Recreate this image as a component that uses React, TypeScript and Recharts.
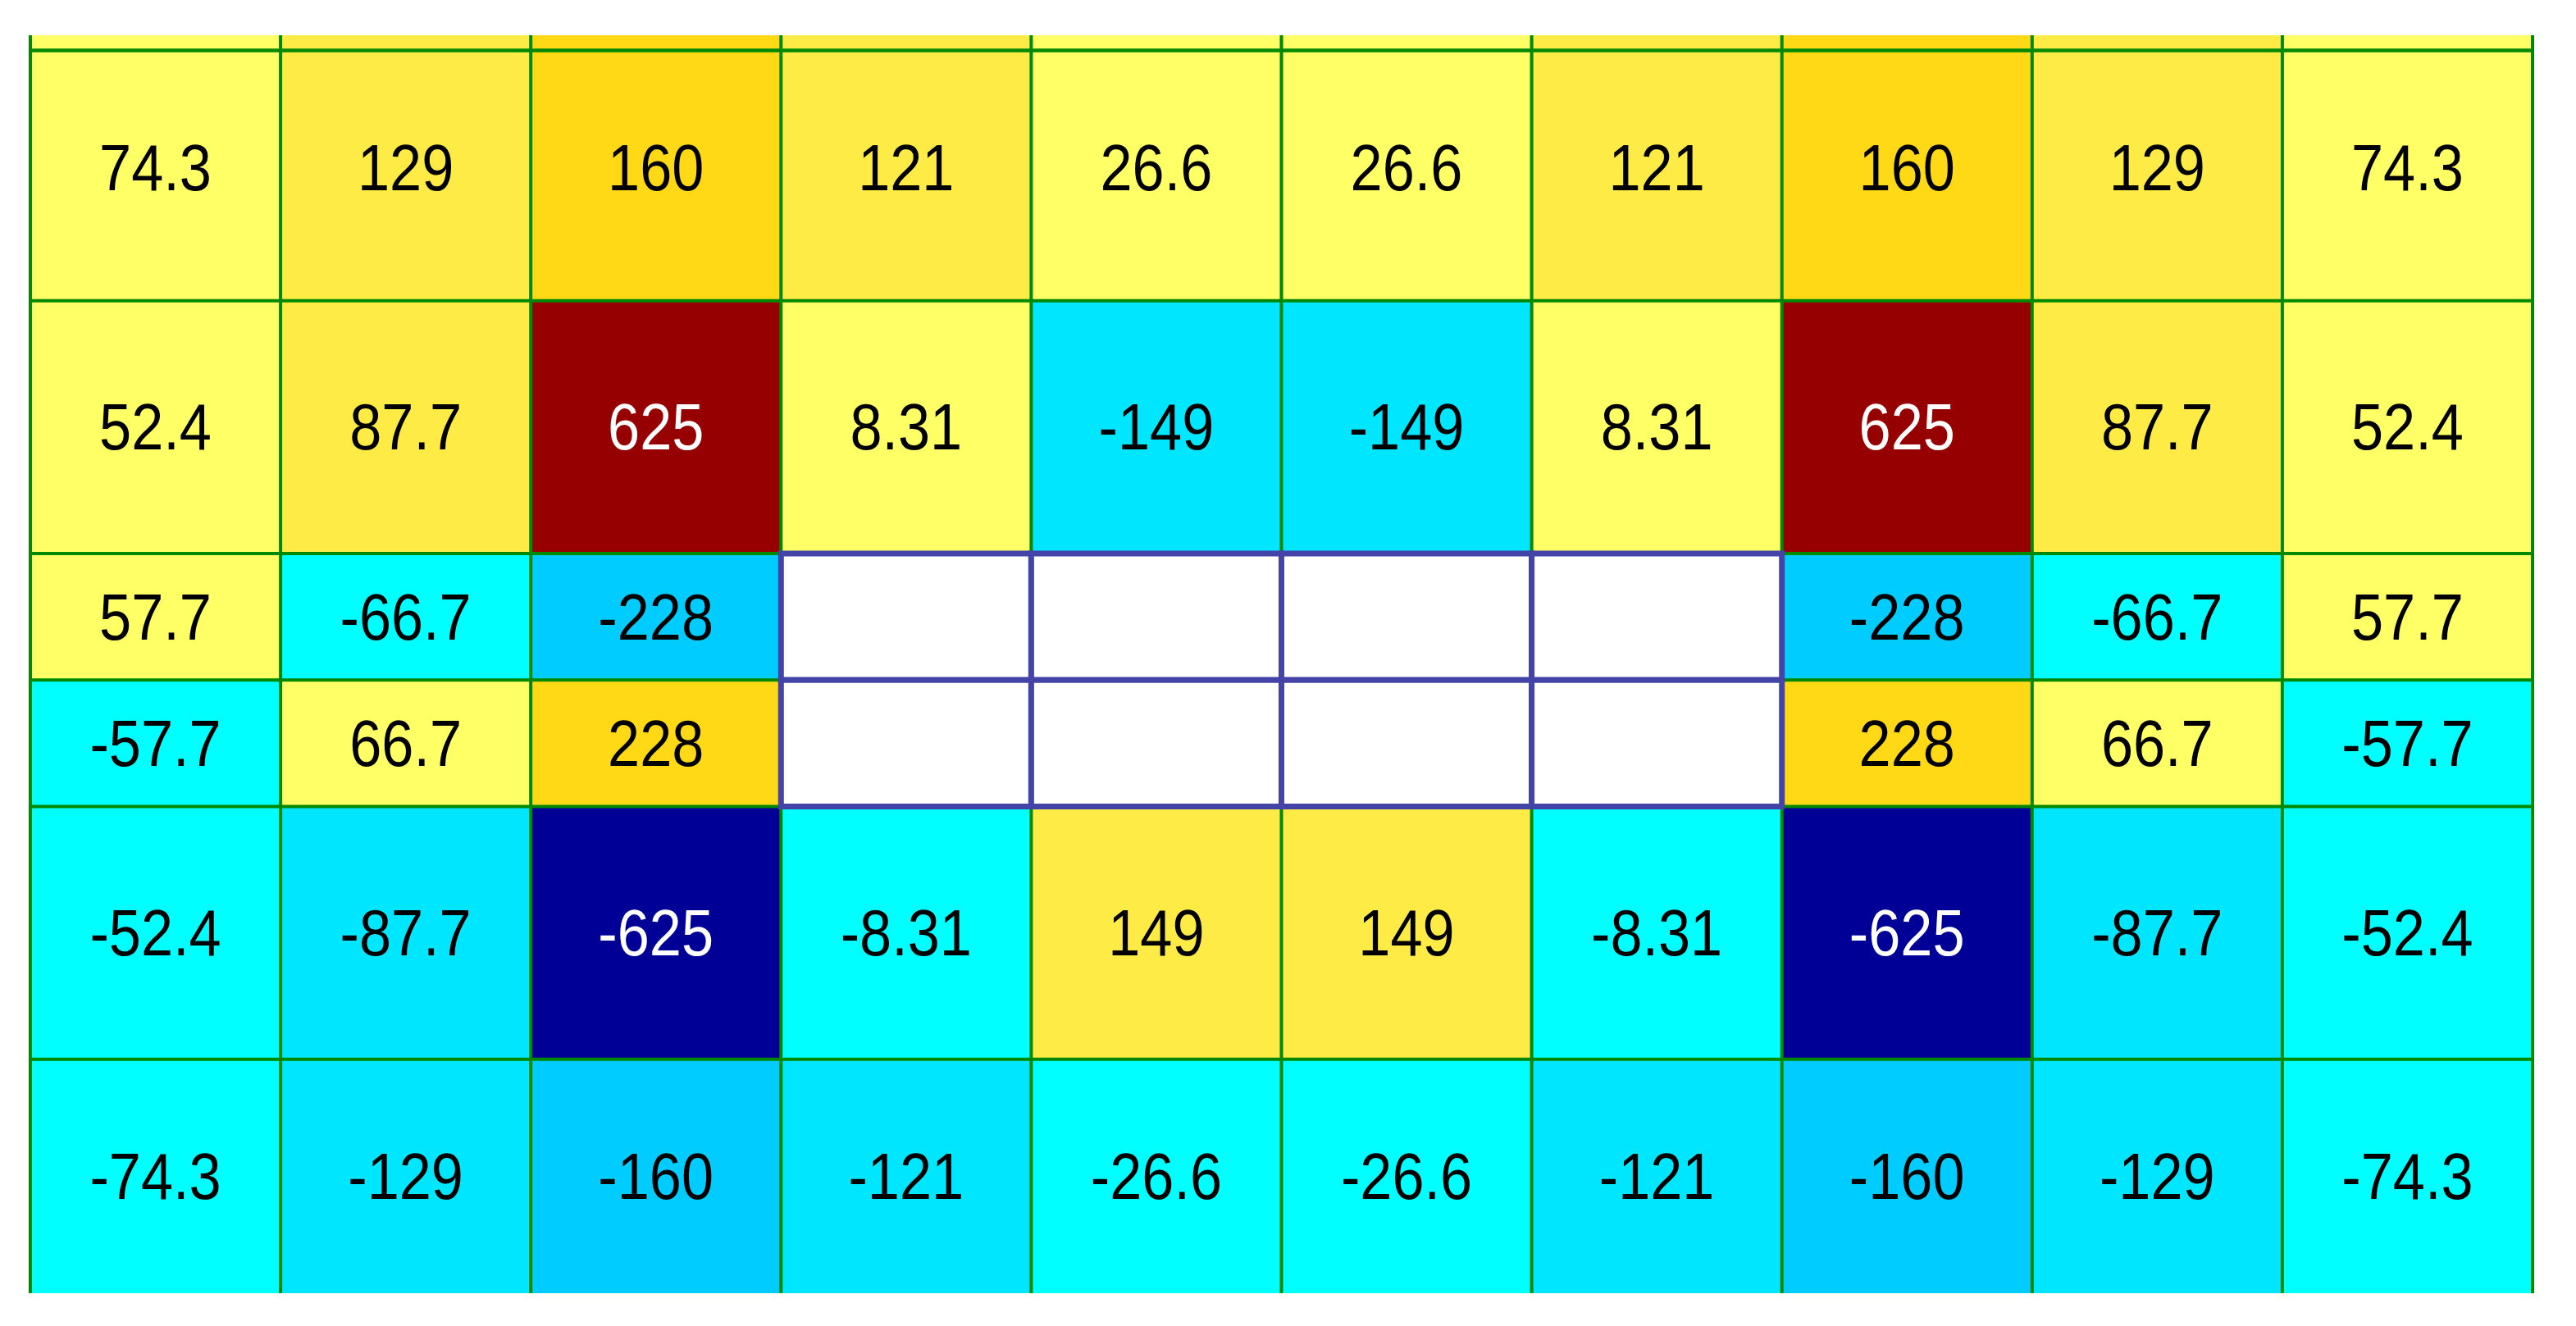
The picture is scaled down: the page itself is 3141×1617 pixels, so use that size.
import { Bar, BarChart, Cell, LabelList, ReferenceArea, ReferenceLine, XAxis, YAxis } from "recharts";

const columns = ["c1", "c2", "c3", "c4", "c5", "c6", "c7", "c8", "c9", "c10"];

// row heights, top to bottom (the top and bottom rows are cropped)
const rowSpans = [2.1, 2.0, 1.0, 1.0, 2.0, 1.85];

const row1 = [74.3, 129, 160, 121, 26.6, 26.6, 121, 160, 129, 74.3];
const row2 = [52.4, 87.7, 625, 8.31, -149, -149, 8.31, 625, 87.7, 52.4];
const row3 = [57.7, -66.7, -228, null, null, null, null, -228, -66.7, 57.7];
const row4 = [-57.7, 66.7, 228, null, null, null, null, 228, 66.7, -57.7];
const row5 = [-52.4, -87.7, -625, -8.31, 149, 149, -8.31, -625, -87.7, -52.4];
const row6 = [-74.3, -129, -160, -121, -26.6, -26.6, -121, -160, -129, -74.3];

const rows = [row1, row2, row3, row4, row5, row6];

const colorSteps = [
  { max: -600, color: "#000096" },
  { max: -150, color: "#00ccff" },
  { max: -80, color: "#00e6ff" },
  { max: 0, color: "#00ffff" },
  { max: 80, color: "#ffff66" },
  { max: 150, color: "#ffeb45" },
  { max: 600, color: "#ffd816" },
  { max: Infinity, color: "#960000" },
];

function cellColor(v: number | null) {
  if (v == null) return "#ffffff";
  return colorSteps.find((s) => v < s.max)!.color;
}

const total = rowSpans.reduce((a, b) => a + b, 0);
// bottom of each row in axis units
const rowBottom = rowSpans.map((_, r) => rowSpans.slice(r + 1).reduce((a, b) => a + b, 0));
const topRule = total - 0.12;

const data = columns.map((col, c) => {
  const d: Record<string, any> = { col };
  rows.forEach((vals, r) => {
    d[`s${r}`] = rowSpans[r];
    d[`v${r}`] = vals[c];
  });
  return d;
});

const GREEN = "#008800";
const BLUE = "#4444a8";

function CellLabel(props: any) {
  const { value } = props;
  if (value == null) return null;
  const vb = props.viewBox ?? props;
  const cx = vb.x + vb.width / 2;
  const cy = vb.y + vb.height / 2;
  const dark = Math.abs(value) >= 600;
  return (
    <text
      transform={`translate(${cx},${cy}) scale(0.89,1)`}
      textAnchor="middle"
      dominantBaseline="central"
      fontFamily="'Liberation Sans', Arial, sans-serif"
      fontSize={79}
      fill={dark ? "#ffffff" : "#000000"}
    >
      {value}
    </text>
  );
}

export default function App() {
  const stackOrder = [5, 4, 3, 2, 1, 0];
  return (
    <div style={{ position: "absolute", left: 0, top: 0, background: "#fff" }}>
      <BarChart
        width={3141}
        height={1617}
        data={data}
        margin={{ top: 43, right: 53, bottom: 40, left: 37 }}
        barCategoryGap={0}
        barGap={0}
      >
        <XAxis dataKey="col" hide />
        <YAxis type="number" domain={[0, total]} hide allowDataOverflow />
        {stackOrder.map((r) => (
          <Bar key={r} dataKey={`s${r}`} stackId="grid" isAnimationActive={false}>
            {columns.map((col, c) => (
              <Cell key={col} fill={cellColor(rows[r][c])} />
            ))}
            <LabelList dataKey={`v${r}`} content={CellLabel} />
          </Bar>
        ))}
        {columns.map((col) => (
          <ReferenceLine key={`vx${col}`} x={col} position="start" stroke={GREEN} strokeWidth={4} zIndex={500} />
        ))}
        <ReferenceLine x={columns[columns.length - 1]} position="end" stroke={GREEN} strokeWidth={4} zIndex={500} />
        {rowBottom.slice(0, -1).map((y, i) => (
          <ReferenceLine key={`hy${i}`} y={y} stroke={GREEN} strokeWidth={4} zIndex={500} />
        ))}
        <ReferenceLine y={topRule} stroke={GREEN} strokeWidth={4.5} zIndex={500} />
        {[2, 3].flatMap((r) =>
          columns
            .filter((_, c) => rows[r][c] == null)
            .map((col) => (
              <ReferenceArea
                key={`w${r}${col}`}
                x1={col}
                x2={col}
                y1={rowBottom[r]}
                y2={rowBottom[r] + rowSpans[r]}
                fill="#ffffff"
                fillOpacity={1}
                stroke={BLUE}
                strokeWidth={7}
                zIndex={600}
              />
            ))
        )}
      </BarChart>
    </div>
  );
}
